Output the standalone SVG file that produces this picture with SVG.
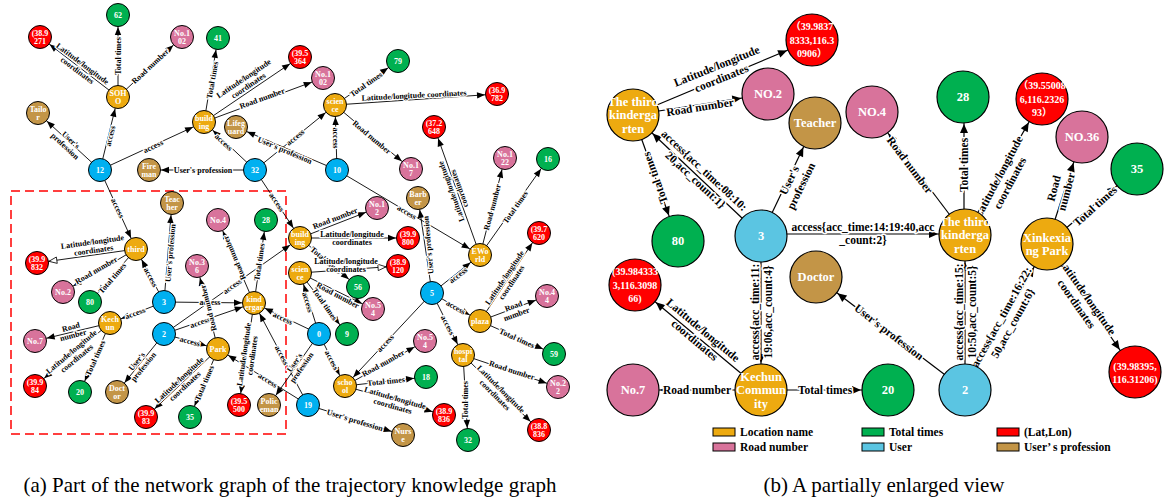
<svg xmlns="http://www.w3.org/2000/svg" width="1168" height="503" viewBox="0 0 1168 503">
<style>
.o{fill:#EDAA10}.g{fill:#00B050}.r{fill:#FF0000}.p{fill:#D8739B}.b{fill:#00B0F0}.c{fill:#5BC5E2}.w{fill:#C39547}
circle{stroke:#000;stroke-width:1}
#right circle{stroke-width:1.2}
.cn line{stroke:#000;stroke-width:0.9;fill:none}
.cnr line{stroke:#000;stroke-width:1.2;fill:none}
.t{font:bold 8px "Liberation Serif",serif;fill:#fff;text-anchor:middle}
.T{font:bold 12.5px "Liberation Serif",serif;fill:#fff;text-anchor:middle}
.Tr{font:bold 10px "Liberation Serif","Noto Sans CJK SC",serif;fill:#fff;text-anchor:middle}
.e{font:bold 8px "Liberation Serif",serif;fill:#000;text-anchor:middle;stroke:#fff;stroke-width:2.4px;paint-order:stroke;stroke-linejoin:round}
.E{font:bold 11.5px "Liberation Serif",serif;fill:#000;text-anchor:middle;stroke:#fff;stroke-width:3px;paint-order:stroke;stroke-linejoin:round}
.lg{font:bold 11.5px "Liberation Serif","Noto Sans CJK SC",serif;fill:#000}
.cap{font:21px "Liberation Serif",serif;fill:#000;text-anchor:middle}
.lb{stroke:#000;stroke-width:1}
</style>
<defs>
<marker id="a" markerUnits="userSpaceOnUse" markerWidth="10" markerHeight="10" refX="12" refY="0" orient="auto" style="overflow:visible"><path d="M0,0 L-8,-3.2 L-8,3.2 Z" fill="#000"/></marker>
<marker id="h" markerUnits="userSpaceOnUse" markerWidth="10" markerHeight="10" refX="12" refY="0" orient="auto" style="overflow:visible"><path d="M0,0 L-8,-3.2 L-8,3.2 Z" fill="#fff" stroke="#000" stroke-width="0.8"/></marker>
<marker id="A" markerUnits="userSpaceOnUse" markerWidth="12" markerHeight="12" refX="27" refY="0" orient="auto" style="overflow:visible"><path d="M0,0 L-9,-4 L-9,4 Z" fill="#000"/></marker>
</defs>
<rect width="1168" height="503" fill="#fff"/>
<rect x="11" y="191" width="275" height="243" fill="none" stroke="#FF0000" stroke-width="1.5" stroke-dasharray="9,5"/>

<g id="connectors-left" class="cn">
<line x1="118" y1="97" x2="40" y2="37" marker-end="url(#a)"/>
<line x1="118" y1="97" x2="118" y2="15" marker-end="url(#a)"/>
<line x1="118" y1="97" x2="182" y2="37" marker-end="url(#a)"/>
<line x1="100" y1="170" x2="118" y2="97" marker-end="url(#a)"/>
<line x1="100" y1="170" x2="38" y2="113" marker-end="url(#a)"/>
<line x1="100" y1="170" x2="204" y2="122" marker-end="url(#a)"/>
<line x1="204" y1="122" x2="218" y2="38" marker-end="url(#a)"/>
<line x1="204" y1="122" x2="300" y2="57" marker-end="url(#a)"/>
<line x1="204" y1="122" x2="323" y2="78" marker-end="url(#a)"/>
<line x1="255" y1="170" x2="204" y2="122" marker-end="url(#a)"/>
<line x1="337" y1="170" x2="236" y2="127" marker-end="url(#a)"/>
<line x1="255" y1="170" x2="335" y2="105" marker-end="url(#a)"/>
<line x1="255" y1="170" x2="149" y2="170" marker-end="url(#a)"/>
<line x1="335" y1="105" x2="398" y2="61" marker-end="url(#a)"/>
<line x1="335" y1="105" x2="497" y2="94" marker-end="url(#a)"/>
<line x1="335" y1="105" x2="411" y2="169" marker-end="url(#a)"/>
<line x1="337" y1="170" x2="335" y2="105" marker-end="url(#a)"/>
<line x1="337" y1="170" x2="480" y2="255" marker-end="url(#a)"/>
<line x1="255" y1="170" x2="300" y2="238" marker-end="url(#a)"/>
<line x1="300" y1="238" x2="377" y2="208" marker-end="url(#a)"/>
<line x1="300" y1="238" x2="408" y2="238" marker-end="url(#a)"/>
<line x1="300" y1="238" x2="358" y2="287" marker-end="url(#a)"/>
<line x1="300" y1="273" x2="398" y2="266" marker-end="url(#h)"/>
<line x1="300" y1="273" x2="373" y2="309" marker-end="url(#a)"/>
<line x1="300" y1="273" x2="347" y2="334" marker-end="url(#a)"/>
<line x1="319" y1="334" x2="300" y2="273" marker-end="url(#a)"/>
<line x1="432" y1="293" x2="418" y2="198" marker-end="url(#a)"/>
<line x1="432" y1="293" x2="480" y2="255" marker-end="url(#a)"/>
<line x1="480" y1="255" x2="434" y2="127" marker-end="url(#a)"/>
<line x1="480" y1="255" x2="505" y2="158" marker-end="url(#a)"/>
<line x1="480" y1="255" x2="548" y2="159" marker-end="url(#a)"/>
<line x1="136" y1="249" x2="37" y2="263" marker-end="url(#h)"/>
<line x1="136" y1="249" x2="63" y2="292" marker-end="url(#a)"/>
<line x1="136" y1="249" x2="90" y2="302" marker-end="url(#a)"/>
<line x1="100" y1="170" x2="136" y2="249" marker-end="url(#a)"/>
<line x1="164" y1="302" x2="172" y2="203" marker-end="url(#a)"/>
<line x1="164" y1="302" x2="136" y2="249" marker-end="url(#a)"/>
<line x1="164" y1="302" x2="110" y2="323" marker-end="url(#a)"/>
<line x1="164" y1="302" x2="254" y2="303" marker-end="url(#a)"/>
<line x1="164" y1="334" x2="254" y2="303" marker-end="url(#a)"/>
<line x1="164" y1="334" x2="300" y2="238" marker-end="url(#a)"/>
<line x1="254" y1="303" x2="218" y2="220" marker-end="url(#a)"/>
<line x1="254" y1="303" x2="266" y2="220" marker-end="url(#a)"/>
<line x1="254" y1="303" x2="239" y2="405" marker-end="url(#a)"/>
<line x1="319" y1="334" x2="254" y2="303" marker-end="url(#a)"/>
<line x1="308" y1="405" x2="254" y2="303" marker-end="url(#a)"/>
<line x1="308" y1="405" x2="218" y2="349" marker-end="url(#a)"/>
<line x1="319" y1="334" x2="269" y2="405" marker-end="url(#a)"/>
<line x1="319" y1="334" x2="345" y2="386" marker-end="url(#a)"/>
<line x1="308" y1="405" x2="403" y2="435" marker-end="url(#a)"/>
<line x1="164" y1="334" x2="218" y2="349" marker-end="url(#a)"/>
<line x1="164" y1="334" x2="117" y2="392" marker-end="url(#a)"/>
<line x1="218" y1="349" x2="197" y2="266" marker-end="url(#a)"/>
<line x1="218" y1="349" x2="146" y2="417" marker-end="url(#a)"/>
<line x1="218" y1="349" x2="190" y2="417" marker-end="url(#a)"/>
<line x1="110" y1="323" x2="35" y2="341" marker-end="url(#a)"/>
<line x1="110" y1="323" x2="35" y2="386" marker-end="url(#a)"/>
<line x1="110" y1="323" x2="80" y2="392" marker-end="url(#a)"/>
<line x1="432" y1="293" x2="480" y2="321" marker-end="url(#a)"/>
<line x1="432" y1="293" x2="463" y2="355" marker-end="url(#a)"/>
<line x1="432" y1="293" x2="345" y2="386" marker-end="url(#a)"/>
<line x1="480" y1="321" x2="539" y2="233" marker-end="url(#a)"/>
<line x1="480" y1="321" x2="547" y2="296" marker-end="url(#a)"/>
<line x1="480" y1="321" x2="554" y2="354" marker-end="url(#a)"/>
<line x1="463" y1="355" x2="558" y2="387" marker-end="url(#a)"/>
<line x1="463" y1="355" x2="539" y2="430" marker-end="url(#a)"/>
<line x1="463" y1="355" x2="468" y2="440" marker-end="url(#a)"/>
<line x1="345" y1="386" x2="425" y2="341" marker-end="url(#a)"/>
<line x1="345" y1="386" x2="426" y2="377" marker-end="url(#a)"/>
<line x1="345" y1="386" x2="444" y2="415" marker-end="url(#a)"/>

<text class="e" transform="translate(80,67) rotate(37)"><tspan x="0" y="-1.5">Latitude/longitude</tspan><tspan x="0" y="7">coordinates</tspan></text>
<text class="e" transform="translate(118,56) rotate(-90)" y="3">Total times</text>
<text class="e" transform="translate(150,66) rotate(-43)" y="3">Road number</text>
<text class="e" transform="translate(110,136) rotate(-76)" y="3">access</text>
<text class="e" transform="translate(68,143) rotate(43)"><tspan x="0" y="-1.5">User's</tspan><tspan x="0" y="7">profession</tspan></text>
<text class="e" transform="translate(153,146) rotate(-25)" y="3">access</text>
<text class="e" transform="translate(212,80) rotate(-80)" y="3">Total times</text>
<text class="e" transform="translate(246,82) rotate(-34)"><tspan x="0" y="-1.5">Latitude/longitude</tspan><tspan x="0" y="7">coordinates</tspan></text>
<text class="e" transform="translate(262,98) rotate(-20)" y="3">Road number</text>
<text class="e" transform="translate(224,142) rotate(43)" y="3">access</text>
<text class="e" transform="translate(285,150) rotate(23)" y="3">User's profession</text>
<text class="e" transform="translate(295,137) rotate(-39)" y="3">access</text>
<text class="e" transform="translate(203,170)" y="3">User's profession</text>
<text class="e" transform="translate(366,84) rotate(-35)" y="3">Total times</text>
<text class="e" transform="translate(414,95) rotate(-3)" y="3">Latitude/longitude coordinates</text>
<text class="e" transform="translate(372,137) rotate(40)" y="3">Road number</text>
<text class="e" transform="translate(336,138) rotate(90)" y="3">access</text>
<text class="e" transform="translate(407,212) rotate(31)" y="3">access</text>
<text class="e" transform="translate(277,202) rotate(56)" y="3">access</text>
<text class="e" transform="translate(335,218) rotate(-21)" y="3">Road number</text>
<text class="e" transform="translate(352,238)"><tspan x="0" y="-1.5">Latitude/longitude</tspan><tspan x="0" y="7">coordinates</tspan></text>
<text class="e" transform="translate(326,260) rotate(40)" y="3">Total times</text>
<text class="e" transform="translate(346,265)"><tspan x="0" y="-1.5">Latitude/longitude</tspan><tspan x="0" y="7">coordinates</tspan></text>
<text class="e" transform="translate(338,295) rotate(28)" y="3">Road number</text>
<text class="e" transform="translate(325,304) rotate(55)" y="3">Total times</text>
<text class="e" transform="translate(308,302) rotate(73)" y="3">access</text>
<text class="e" transform="translate(428,245) rotate(-95)" y="3">User's profession</text>
<text class="e" transform="translate(458,275) rotate(-38)" y="3">access</text>
<text class="e" transform="translate(455,190) rotate(-110)"><tspan x="0" y="-1.5">Latitude/longitude</tspan><tspan x="0" y="7">coordinates</tspan></text>
<text class="e" transform="translate(492,207) rotate(-75)" y="3">Road number</text>
<text class="e" transform="translate(515,207) rotate(-55)" y="3">Total times</text>
<text class="e" transform="translate(93,246) rotate(-8)"><tspan x="0" y="-1.5">Latitude/longitude</tspan><tspan x="0" y="7">coordinates</tspan></text>
<text class="e" transform="translate(96,270) rotate(-30)" y="3">Road number</text>
<text class="e" transform="translate(112,278) rotate(-49)" y="3">Total times</text>
<text class="e" transform="translate(118,208) rotate(65)" y="3">access</text>
<text class="e" transform="translate(170,253) rotate(-85)" y="3">User's profession</text>
<text class="e" transform="translate(151,277) rotate(62)" y="3">access</text>
<text class="e" transform="translate(135,313) rotate(-21)" y="3">access</text>
<text class="e" transform="translate(210,302)" y="3">access</text>
<text class="e" transform="translate(200,322) rotate(-19)" y="3">access</text>
<text class="e" transform="translate(232,286) rotate(-35)" y="3">access</text>
<text class="e" transform="translate(234,258) rotate(-113)" y="3">Road number</text>
<text class="e" transform="translate(259,262) rotate(-82)" y="3">Total times</text>
<text class="e" transform="translate(248,355) rotate(-82)"><tspan x="0" y="-1.5">Latitude/longitude</tspan><tspan x="0" y="7">coordinates</tspan></text>
<text class="e" transform="translate(283,318) rotate(25)" y="3">access</text>
<text class="e" transform="translate(282,355) rotate(62)" y="3">access</text>
<text class="e" transform="translate(268,380) rotate(32)" y="3">access</text>
<text class="e" transform="translate(298,365) rotate(-55)"><tspan x="0" y="-1.5">User's</tspan><tspan x="0" y="7">profession</tspan></text>
<text class="e" transform="translate(332,360) rotate(63)" y="3">access</text>
<text class="e" transform="translate(355,420) rotate(17)" y="3">User's profession</text>
<text class="e" transform="translate(190,341) rotate(15)" y="3">access</text>
<text class="e" transform="translate(140,364) rotate(-51)"><tspan x="0" y="-1.5">User's</tspan><tspan x="0" y="7">profession</tspan></text>
<text class="e" transform="translate(208,308) rotate(-104)" y="3">Road number</text>
<text class="e" transform="translate(182,383) rotate(-43)"><tspan x="0" y="-1.5">Latitude/longitude</tspan><tspan x="0" y="7">coordinates</tspan></text>
<text class="e" transform="translate(204,383) rotate(-67)" y="3">Total times</text>
<text class="e" transform="translate(72,331) rotate(-15)"><tspan x="0" y="-1.5">Road</tspan><tspan x="0" y="7">number</tspan></text>
<text class="e" transform="translate(74,355) rotate(-40)"><tspan x="0" y="-1.5">Latitude/longitude</tspan><tspan x="0" y="7">coordinates</tspan></text>
<text class="e" transform="translate(95,358) rotate(-66)" y="3">Total times</text>
<text class="e" transform="translate(456,307) rotate(30)" y="3">access</text>
<text class="e" transform="translate(448,325) rotate(63)" y="3">access</text>
<text class="e" transform="translate(385,343) rotate(-47)" y="3">access</text>
<text class="e" transform="translate(508,280) rotate(-56)"><tspan x="0" y="-1.5">Latitude/longitude</tspan><tspan x="0" y="7">coordinates</tspan></text>
<text class="e" transform="translate(515,310) rotate(-20)"><tspan x="0" y="-1.5">Road</tspan><tspan x="0" y="7">number</tspan></text>
<text class="e" transform="translate(517,338) rotate(24)" y="3">Total times</text>
<text class="e" transform="translate(512,370) rotate(18)" y="3">Road number</text>
<text class="e" transform="translate(498,392) rotate(45)"><tspan x="0" y="-1.5">Latitude/longitude</tspan><tspan x="0" y="7">coordinates</tspan></text>
<text class="e" transform="translate(465,400) rotate(-90)" y="3">Total times</text>
<text class="e" transform="translate(383,363) rotate(-29)" y="3">Road number</text>
<text class="e" transform="translate(386,381) rotate(-6)" y="3">Total times</text>
<text class="e" transform="translate(394,402) rotate(16)"><tspan x="0" y="-1.5">Latitude/longitude</tspan><tspan x="0" y="7">coordinates</tspan></text>
</g>

<g id="left">
<g id="l-lat9271" transform="translate(40,37)"><circle class="r" r="11.5"/><text class="t"><tspan x="0" y="-1.4">(38.9</tspan><tspan x="0" y="7">271</tspan></text></g>
<g id="l-t62" transform="translate(118,15)"><circle class="g" r="11.5"/><text class="t" y="2.8">62</text></g>
<g id="l-no102a" transform="translate(182,37)"><circle class="p" r="11.5"/><text class="t"><tspan x="0" y="-1.4">No.1</tspan><tspan x="0" y="7">02</tspan></text></g>
<g id="l-soho" transform="translate(118,97)"><circle class="o" r="11.5"/><text class="t"><tspan x="0" y="-1.4">SOH</tspan><tspan x="0" y="7">O</tspan></text></g>
<g id="l-tailor" transform="translate(38,113)"><circle class="w" r="11.5"/><text class="t"><tspan x="0" y="-1.4">Tailo</tspan><tspan x="0" y="7">r</tspan></text></g>
<g id="l-t41" transform="translate(218,38)"><circle class="g" r="11.5"/><text class="t" y="2.8">41</text></g>
<g id="l-lat5364" transform="translate(300,57)"><circle class="r" r="11.5"/><text class="t"><tspan x="0" y="-1.4">(39.5</tspan><tspan x="0" y="7">364</tspan></text></g>
<g id="l-no102b" transform="translate(323,78)"><circle class="p" r="11.5"/><text class="t"><tspan x="0" y="-1.4">No.1</tspan><tspan x="0" y="7">02</tspan></text></g>
<g id="l-build1" transform="translate(204,122)"><circle class="o" r="11.5"/><text class="t"><tspan x="0" y="-1.4">build</tspan><tspan x="0" y="7">ing</tspan></text></g>
<g id="l-lifeguard" transform="translate(236,127)"><circle class="w" r="11.5"/><text class="t"><tspan x="0" y="-1.4">Lifeg</tspan><tspan x="0" y="7">uard</tspan></text></g>
<g id="l-sci1" transform="translate(335,105)"><circle class="o" r="11.5"/><text class="t"><tspan x="0" y="-1.4">scien</tspan><tspan x="0" y="7">ce</tspan></text></g>
<g id="l-t79" transform="translate(398,61)"><circle class="g" r="11.5"/><text class="t" y="2.8">79</text></g>
<g id="l-lat9782" transform="translate(497,94)"><circle class="r" r="11.5"/><text class="t"><tspan x="0" y="-1.4">(36.9</tspan><tspan x="0" y="7">782</tspan></text></g>
<g id="l-lat2648" transform="translate(434,127)"><circle class="r" r="11.5"/><text class="t"><tspan x="0" y="-1.4">(37.2</tspan><tspan x="0" y="7">648</tspan></text></g>
<g id="l-u12" transform="translate(100,170)"><circle class="b" r="11.5"/><text class="t" y="2.8">12</text></g>
<g id="l-fireman" transform="translate(149,170)"><circle class="w" r="11.5"/><text class="t"><tspan x="0" y="-1.4">Fire</tspan><tspan x="0" y="7">man</tspan></text></g>
<g id="l-u32" transform="translate(255,170)"><circle class="b" r="11.5"/><text class="t" y="2.8">32</text></g>
<g id="l-u10" transform="translate(337,170)"><circle class="b" r="11.5"/><text class="t" y="2.8">10</text></g>
<g id="l-no17" transform="translate(411,169)"><circle class="p" r="11.5"/><text class="t"><tspan x="0" y="-1.4">No.1</tspan><tspan x="0" y="7">7</tspan></text></g>
<g id="l-no122" transform="translate(505,158)"><circle class="p" r="11.5"/><text class="t"><tspan x="0" y="-1.4">No.1</tspan><tspan x="0" y="7">22</tspan></text></g>
<g id="l-t16" transform="translate(548,159)"><circle class="g" r="11.5"/><text class="t" y="2.8">16</text></g>
<g id="l-teacher" transform="translate(172,203)"><circle class="w" r="11.5"/><text class="t"><tspan x="0" y="-1.4">Teac</tspan><tspan x="0" y="7">her</tspan></text></g>
<g id="l-no12" transform="translate(377,208)"><circle class="p" r="11.5"/><text class="t"><tspan x="0" y="-1.4">No.1</tspan><tspan x="0" y="7">2</tspan></text></g>
<g id="l-barber" transform="translate(418,198)"><circle class="w" r="11.5"/><text class="t"><tspan x="0" y="-1.4">Barb</tspan><tspan x="0" y="7">er</tspan></text></g>
<g id="l-no4" transform="translate(218,220)"><circle class="p" r="11.5"/><text class="t" y="2.8">No.4</text></g>
<g id="l-t28" transform="translate(266,220)"><circle class="g" r="11.5"/><text class="t" y="2.8">28</text></g>
<g id="l-third" transform="translate(136,249)"><circle class="o" r="11.5"/><text class="t" y="2.8">third</text></g>
<g id="l-lat9832" transform="translate(37,263)"><circle class="r" r="11.5"/><text class="t"><tspan x="0" y="-1.4">(39.9</tspan><tspan x="0" y="7">832</tspan></text></g>
<g id="l-no36" transform="translate(197,266)"><circle class="p" r="11.5"/><text class="t"><tspan x="0" y="-1.4">No.3</tspan><tspan x="0" y="7">6</tspan></text></g>
<g id="l-build2" transform="translate(300,238)"><circle class="o" r="11.5"/><text class="t"><tspan x="0" y="-1.4">build</tspan><tspan x="0" y="7">ing</tspan></text></g>
<g id="l-lat9800" transform="translate(408,238)"><circle class="r" r="11.5"/><text class="t"><tspan x="0" y="-1.4">(39.9</tspan><tspan x="0" y="7">800</tspan></text></g>
<g id="l-lat9120" transform="translate(398,266)"><circle class="r" r="11.5"/><text class="t"><tspan x="0" y="-1.4">(38.9</tspan><tspan x="0" y="7">120</tspan></text></g>
<g id="l-eworld" transform="translate(480,255)"><circle class="o" r="11.5"/><text class="t"><tspan x="0" y="-1.4">EWo</tspan><tspan x="0" y="7">rld</tspan></text></g>
<g id="l-lat7620" transform="translate(539,233)"><circle class="r" r="11.5"/><text class="t"><tspan x="0" y="-1.4">(39.7</tspan><tspan x="0" y="7">620</tspan></text></g>
<g id="l-sci2" transform="translate(300,273)"><circle class="o" r="11.5"/><text class="t"><tspan x="0" y="-1.4">scien</tspan><tspan x="0" y="7">ce</tspan></text></g>
<g id="l-t56" transform="translate(358,287)"><circle class="g" r="11.5"/><text class="t" y="2.8">56</text></g>
<g id="l-no2" transform="translate(63,292)"><circle class="p" r="11.5"/><text class="t" y="2.8">No.2</text></g>
<g id="l-t80" transform="translate(90,302)"><circle class="g" r="11.5"/><text class="t" y="2.8">80</text></g>
<g id="l-u3" transform="translate(164,302)"><circle class="b" r="11.5"/><text class="t" y="2.8">3</text></g>
<g id="l-kind" transform="translate(254,303)"><circle class="o" r="11.5"/><text class="t"><tspan x="0" y="-1.4">kind</tspan><tspan x="0" y="7">ergar</tspan></text></g>
<g id="l-no54a" transform="translate(373,309)"><circle class="p" r="11.5"/><text class="t"><tspan x="0" y="-1.4">No.5</tspan><tspan x="0" y="7">4</tspan></text></g>
<g id="l-u5" transform="translate(432,293)"><circle class="b" r="11.5"/><text class="t" y="2.8">5</text></g>
<g id="l-no44" transform="translate(547,296)"><circle class="p" r="11.5"/><text class="t"><tspan x="0" y="-1.4">No.4</tspan><tspan x="0" y="7">4</tspan></text></g>
<g id="l-kechun" transform="translate(110,323)"><circle class="o" r="11.5"/><text class="t"><tspan x="0" y="-1.4">Kech</tspan><tspan x="0" y="7">un</tspan></text></g>
<g id="l-u2" transform="translate(164,334)"><circle class="b" r="11.5"/><text class="t" y="2.8">2</text></g>
<g id="l-u0" transform="translate(319,334)"><circle class="b" r="11.5"/><text class="t" y="2.8">0</text></g>
<g id="l-t9" transform="translate(347,334)"><circle class="g" r="11.5"/><text class="t" y="2.8">9</text></g>
<g id="l-plaza" transform="translate(480,321)"><circle class="o" r="11.5"/><text class="t" y="2.8">plaza</text></g>
<g id="l-no7" transform="translate(35,341)"><circle class="p" r="11.5"/><text class="t" y="2.8">No.7</text></g>
<g id="l-park" transform="translate(218,349)"><circle class="o" r="11.5"/><text class="t" y="2.8">Park</text></g>
<g id="l-no54b" transform="translate(425,341)"><circle class="p" r="11.5"/><text class="t"><tspan x="0" y="-1.4">No.5</tspan><tspan x="0" y="7">4</tspan></text></g>
<g id="l-hosp" transform="translate(463,355)"><circle class="o" r="11.5"/><text class="t"><tspan x="0" y="-1.4">hospi</tspan><tspan x="0" y="7">tal</tspan></text></g>
<g id="l-t59" transform="translate(554,354)"><circle class="g" r="11.5"/><text class="t" y="2.8">59</text></g>
<g id="l-t18" transform="translate(426,377)"><circle class="g" r="11.5"/><text class="t" y="2.8">18</text></g>
<g id="l-school" transform="translate(345,386)"><circle class="o" r="11.5"/><text class="t"><tspan x="0" y="-1.4">scho</tspan><tspan x="0" y="7">ol</tspan></text></g>
<g id="l-no22" transform="translate(558,387)"><circle class="p" r="11.5"/><text class="t"><tspan x="0" y="-1.4">No.2</tspan><tspan x="0" y="7">2</tspan></text></g>
<g id="l-lat984" transform="translate(35,386)"><circle class="r" r="11.5"/><text class="t"><tspan x="0" y="-1.4">(39.9</tspan><tspan x="0" y="7">84</tspan></text></g>
<g id="l-t20" transform="translate(80,392)"><circle class="g" r="11.5"/><text class="t" y="2.8">20</text></g>
<g id="l-doctor" transform="translate(117,392)"><circle class="w" r="11.5"/><text class="t"><tspan x="0" y="-1.4">Doct</tspan><tspan x="0" y="7">or</tspan></text></g>
<g id="l-lat5500" transform="translate(239,405)"><circle class="r" r="11.5"/><text class="t"><tspan x="0" y="-1.4">(39.5</tspan><tspan x="0" y="7">500</tspan></text></g>
<g id="l-police" transform="translate(269,405)"><circle class="w" r="11.5"/><text class="t"><tspan x="0" y="-1.4">Polic</tspan><tspan x="0" y="7">eman</tspan></text></g>
<g id="l-u19" transform="translate(308,405)"><circle class="b" r="11.5"/><text class="t" y="2.8">19</text></g>
<g id="l-lat983" transform="translate(146,417)"><circle class="r" r="11.5"/><text class="t"><tspan x="0" y="-1.4">(39.9</tspan><tspan x="0" y="7">83</tspan></text></g>
<g id="l-t35" transform="translate(190,417)"><circle class="g" r="11.5"/><text class="t" y="2.8">35</text></g>
<g id="l-lat9836" transform="translate(444,415)"><circle class="r" r="11.5"/><text class="t"><tspan x="0" y="-1.4">(38.9</tspan><tspan x="0" y="7">836</tspan></text></g>
<g id="l-nurse" transform="translate(403,435)"><circle class="w" r="11.5"/><text class="t"><tspan x="0" y="-1.4">Nurs</tspan><tspan x="0" y="7">e</tspan></text></g>
<g id="l-t32" transform="translate(468,440)"><circle class="g" r="11.5"/><text class="t" y="2.8">32</text></g>
<g id="l-lat8836" transform="translate(539,430)"><circle class="r" r="11.5"/><text class="t"><tspan x="0" y="-1.4">(38.8</tspan><tspan x="0" y="7">836</tspan></text></g>
</g>

<g id="connectors-right" class="cnr">
<line x1="633" y1="115" x2="812" y2="40" marker-end="url(#A)"/>
<line x1="633" y1="115" x2="768" y2="94" marker-end="url(#A)"/>
<line x1="633" y1="115" x2="678" y2="241" marker-end="url(#A)"/>
<line x1="761" y1="236" x2="633" y2="115" marker-end="url(#A)"/>
<line x1="761" y1="236" x2="815" y2="123" marker-end="url(#A)"/>
<line x1="761" y1="234" x2="965" y2="234" marker-end="url(#A)"/>
<line x1="761" y1="236" x2="761" y2="390" marker-end="url(#A)"/>
<line x1="761" y1="390" x2="633" y2="390" marker-end="url(#A)"/>
<line x1="761" y1="390" x2="888" y2="390" marker-end="url(#A)"/>
<line x1="761" y1="390" x2="635" y2="285" marker-end="url(#A)"/>
<line x1="965" y1="390" x2="816" y2="277" marker-end="url(#A)"/>
<line x1="965" y1="390" x2="965" y2="235" marker-end="url(#A)"/>
<line x1="965" y1="390" x2="1047" y2="244" marker-end="url(#A)"/>
<line x1="1047" y1="244" x2="1135" y2="372" marker-end="url(#A)"/>
<line x1="965" y1="235" x2="872" y2="112" marker-end="url(#A)"/>
<line x1="964" y1="235" x2="964" y2="97" marker-end="url(#A)"/>
<line x1="965" y1="235" x2="1042" y2="99" marker-end="url(#A)"/>
<line x1="1047" y1="244" x2="1082" y2="137" marker-end="url(#A)"/>
<line x1="1047" y1="244" x2="1137" y2="169" marker-end="url(#A)"/>

<text class="E" transform="translate(719,72) rotate(-22)"><tspan x="0" y="-2.5">Latitude/longitude</tspan><tspan x="0" y="10.5">coordinates</tspan></text>
<text class="E" transform="translate(700,107) rotate(-9)" y="4">Road number</text>
<text class="E" transform="translate(655,178) rotate(-110)" y="4">Total times</text>
<text class="E" transform="translate(700,175) rotate(43)"><tspan x="0" y="-2.5">access{acc_time:08:10:</tspan><tspan x="0" y="10.5">20,acc_count:1}</tspan></text>
<text class="E" transform="translate(795,183) rotate(-64)"><tspan x="0" y="-2.5">User's</tspan><tspan x="0" y="10.5">profession</tspan></text>
<text class="E" transform="translate(863,233)"><tspan x="0" y="-2.5">access{acc_time:14:19:40,acc</tspan><tspan x="0" y="10.5">_count:2}</tspan></text>
<text class="E" transform="translate(761,312) rotate(-90)"><tspan x="0" y="-2.5">access{acc_time:11:</tspan><tspan x="0" y="10.5">19:06,acc_count:4}</tspan></text>
<text class="E" transform="translate(697,390)" y="4">Road number</text>
<text class="E" transform="translate(825,390)" y="4">Total times</text>
<text class="E" transform="translate(699,335) rotate(40)"><tspan x="0" y="-2.5">Latitude/longitude</tspan><tspan x="0" y="10.5">coordinates</tspan></text>
<text class="E" transform="translate(889,332) rotate(37.7)" y="4">User's profession</text>
<text class="E" transform="translate(965,312) rotate(-90)"><tspan x="0" y="-2.5">access{acc_time:15:</tspan><tspan x="0" y="10.5">10:50,acc_count:5}</tspan></text>
<text class="E" transform="translate(1007,320) rotate(-61)"><tspan x="0" y="-2.5">access{acc_time:16:22:</tspan><tspan x="0" y="10.5">50,acc_count:6}</tspan></text>
<text class="E" transform="translate(1082,300) rotate(55)"><tspan x="0" y="-2.5">Latitude/longitude</tspan><tspan x="0" y="10.5">coordinates</tspan></text>
<text class="E" transform="translate(910,165) rotate(53)" y="4">Road number</text>
<text class="E" transform="translate(964,165) rotate(-90)" y="4">Total times</text>
<text class="E" transform="translate(1004,180) rotate(-62)"><tspan x="0" y="-2.5">Latitude/longitude</tspan><tspan x="0" y="10.5">coordinates</tspan></text>
<text class="E" transform="translate(1060,190) rotate(-75)"><tspan x="0" y="-2.5">Road</tspan><tspan x="0" y="10.5">number</tspan></text>
<text class="E" transform="translate(1095,206) rotate(-42)" y="4">Total times</text>
</g>

<g id="right">
<g id="r-kindL" transform="translate(633,115)"><circle class="o" r="26"/><text class="T"><tspan x="0" y="-9.3">The third</tspan><tspan x="0" y="4.2">kinderga</tspan><tspan x="0" y="17.7">rten</tspan></text></g>
<g id="r-latA" transform="translate(812,40)"><circle class="r" r="26"/><text class="Tr"><tspan x="0" y="-9.8">（39.9837</tspan><tspan x="0" y="3.5">8333,116.3</tspan><tspan x="0" y="16.8">0906）</tspan></text></g>
<g id="r-no2" transform="translate(768,94)"><circle class="p" r="26"/><text class="T" y="4.4">NO.2</text></g>
<g id="r-teacher" transform="translate(815,123)"><circle class="w" r="26"/><text class="T" y="4.4">Teacher</text></g>
<g id="r-no4" transform="translate(872,112)"><circle class="p" r="26"/><text class="T" y="4.4">NO.4</text></g>
<g id="r-t28" transform="translate(963,97)"><circle class="g" r="26"/><text class="T" y="4.4">28</text></g>
<g id="r-latB" transform="translate(1042,99)"><circle class="r" r="26"/><text class="Tr"><tspan x="0" y="-9.8">（39.55008</tspan><tspan x="0" y="3.5">6,116.2326</tspan><tspan x="0" y="16.8">93）</tspan></text></g>
<g id="r-no36" transform="translate(1082,137)"><circle class="p" r="26"/><text class="T" y="4.4">NO.36</text></g>
<g id="r-t35" transform="translate(1137,169)"><circle class="g" r="26"/><text class="T" y="4.4">35</text></g>
<g id="r-t80" transform="translate(678,241)"><circle class="g" r="26"/><text class="T" y="4.4">80</text></g>
<g id="r-u3" transform="translate(761,236)"><circle class="c" r="26"/><text class="T" y="4.4">3</text></g>
<g id="r-kindR" transform="translate(965,235)"><circle class="o" r="26"/><text class="T"><tspan x="0" y="-9.3">The third</tspan><tspan x="0" y="4.2">kinderga</tspan><tspan x="0" y="17.7">rten</tspan></text></g>
<g id="r-park" transform="translate(1047,244)"><circle class="o" r="26"/><text class="T"><tspan x="0" y="-2.5">Xinkexia</tspan><tspan x="0" y="11">ng Park</tspan></text></g>
<g id="r-doctor" transform="translate(816,277)"><circle class="w" r="26"/><text class="T" y="4.4">Doctor</text></g>
<g id="r-latC" transform="translate(635,285)"><circle class="r" r="26"/><text class="Tr"><tspan x="0" y="-9.8">(39.984333</tspan><tspan x="0" y="3.5">3,116.3098</tspan><tspan x="0" y="16.8">66)</tspan></text></g>
<g id="r-no7" transform="translate(633,390)"><circle class="p" r="26"/><text class="T" y="4.4">No.7</text></g>
<g id="r-kechun" transform="translate(761,390)"><circle class="o" r="26"/><text class="T"><tspan x="0" y="-9.3">Kechun</tspan><tspan x="0" y="4.2">Commun</tspan><tspan x="0" y="17.7">ity</tspan></text></g>
<g id="r-t20" transform="translate(888,390)"><circle class="g" r="26"/><text class="T" y="4.4">20</text></g>
<g id="r-u2" transform="translate(965,390)"><circle class="c" r="26"/><text class="T" y="4.4">2</text></g>
<g id="r-latD" transform="translate(1135,372)"><circle class="r" r="26"/><text class="Tr"><tspan x="0" y="-2.5">(39.98395,</tspan><tspan x="0" y="11">116.31206)</tspan></text></g>
</g>

<g id="legend">
<rect class="lb o" x="713" y="428" width="22" height="8"/><text class="lg" x="740" y="436">Location name</text>
<rect class="lb p" x="713" y="443" width="22" height="8"/><text class="lg" x="740" y="451">Road number</text>
<rect class="lb g" x="862" y="428" width="22" height="8"/><text class="lg" x="889" y="436">Total times</text>
<rect class="lb c" x="862" y="443" width="22" height="8"/><text class="lg" x="889" y="451">User</text>
<rect class="lb r" x="997" y="428" width="22" height="8"/><text class="lg" x="1024" y="436">(Lat,Lon)</text>
<rect class="lb w" x="997" y="443" width="22" height="8"/><text class="lg" x="1024" y="451">User’ s profession</text>
</g>

<text class="cap" x="290" y="492">(a)  Part of the network graph of the trajectory knowledge graph</text>
<text class="cap" x="884" y="492">(b)  A partially enlarged view</text>
</svg>
